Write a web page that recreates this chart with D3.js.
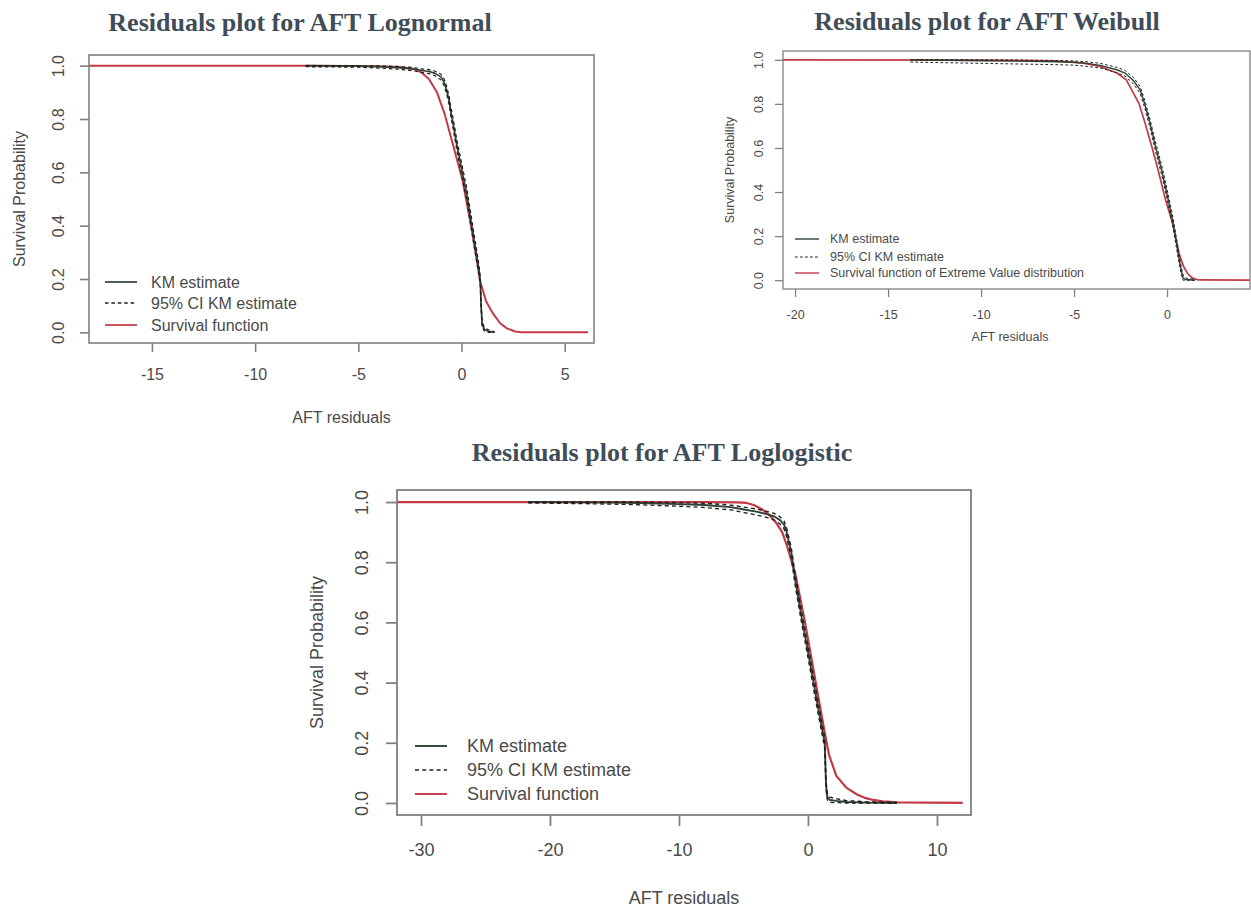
<!DOCTYPE html>
<html>
<head>
<meta charset="utf-8">
<script src="https://cdn.jsdelivr.net/npm/d3@7"></script>
<style>
  html, body { margin: 0; padding: 0; background: #fff; }
  svg { display: block; }
</style>
</head>
<body>
<svg id="chart" width="1251" height="908"></svg>
<script>
// ---------------- DATA ----------------
const titles = ["Residuals plot for AFT Lognormal", "Residuals plot for AFT Weibull", "Residuals plot for AFT Loglogistic"];
const yTitle = "Survival Probability";
const xTitle = "AFT residuals";
const yTicks = [0, 0.2, 0.4, 0.6, 0.8, 1.0];
const xTicks1 = [-15, -10, -5, 0, 5];
const xTicks2 = [-20, -15, -10, -5, 0];
const xTicks3 = [-30, -20, -10, 0, 10];
const xRange1 = [-18.05, 6.42];
const xRange2 = [-20.65, 4.46];
const xRange3 = [-31.86, 12.64];
const legend1 = ["KM estimate", "95% CI KM estimate", "Survival function"];
const legend2 = ["KM estimate", "95% CI KM estimate", "Survival function of Extreme Value distribution"];
const legend3 = ["KM estimate", "95% CI KM estimate", "Survival function"];

// Lognormal panel
const km1X  = [-7.55, -6, -5, -4, -3.1, -2.35, -1.9, -1.58, -1.3, -1.0, -0.85, -0.72, -0.6, -0.53, -0.4, -0.24, 0.05, 0.25, 0.43, 0.6, 0.72, 0.85, 0.91, 0.95, 1.0, 1.1, 1.3, 1.6];
const km1Y  = [1.0, 0.999, 0.998, 0.996, 0.993, 0.988, 0.982, 0.978, 0.972, 0.958, 0.94, 0.908, 0.87, 0.833, 0.78, 0.708, 0.595, 0.52, 0.433, 0.35, 0.295, 0.23, 0.19, 0.10, 0.03, 0.012, 0.004, 0.0];
const km1Up = [1.0, 1.0, 1.0, 0.999, 0.997, 0.993, 0.988, 0.985, 0.980, 0.968, 0.952, 0.922, 0.886, 0.850, 0.800, 0.728, 0.618, 0.543, 0.456, 0.372, 0.316, 0.250, 0.208, 0.116, 0.042, 0.020, 0.009, 0.002];
const km1Lo = [0.996, 0.995, 0.994, 0.991, 0.987, 0.981, 0.975, 0.970, 0.963, 0.947, 0.927, 0.893, 0.853, 0.815, 0.760, 0.688, 0.572, 0.497, 0.410, 0.328, 0.274, 0.210, 0.172, 0.085, 0.020, 0.005, 0.0, 0.0];
const fit1X = [-19, -8, -5, -4, -3, -2.5, -2.2, -1.9, -1.58, -1.19, -0.82, -0.43, 0.05, 0.53, 0.91, 1.2, 1.49, 1.86, 2.2, 2.6, 2.9, 6.13];
const fit1Y = [1.0, 1.0, 0.999, 0.998, 0.995, 0.99, 0.985, 0.972, 0.95, 0.90, 0.82, 0.708, 0.57, 0.37, 0.19, 0.115, 0.075, 0.035, 0.015, 0.003, 0.0, 0.0];

// Weibull panel
const km2X  = [-13.8, -12, -10, -8, -6, -5, -4.3, -3.6, -2.7, -2.26, -1.8, -1.45, -1.2, -0.92, -0.6, -0.29, 0.0, 0.33, 0.6, 0.75, 0.86, 1.0, 1.5];
const km2Y  = [1.0, 0.998, 0.996, 0.994, 0.991, 0.989, 0.984, 0.975, 0.955, 0.94, 0.905, 0.864, 0.80, 0.712, 0.60, 0.50, 0.39, 0.258, 0.12, 0.05, 0.01, 0.003, 0.0];
const km2Up = [1.0, 1.0, 1.0, 0.999, 0.997, 0.995, 0.991, 0.984, 0.966, 0.952, 0.919, 0.879, 0.817, 0.731, 0.621, 0.522, 0.413, 0.281, 0.141, 0.068, 0.024, 0.010, 0.003];
const km2Lo = [0.99, 0.987, 0.984, 0.981, 0.978, 0.976, 0.97, 0.963, 0.942, 0.926, 0.89, 0.848, 0.782, 0.692, 0.578, 0.478, 0.367, 0.235, 0.099, 0.032, 0.0, 0.0, 0.0];
const fit2X = [-21, -10, -6, -4.5, -3.6, -2.7, -2.2, -1.9, -1.5, -1.18, -0.8, -0.48, -0.1, 0.3, 0.65, 0.9, 1.15, 1.4, 1.7, 4.6];
const fit2Y = [1.0, 0.999, 0.995, 0.985, 0.97, 0.94, 0.91, 0.864, 0.80, 0.712, 0.60, 0.50, 0.37, 0.258, 0.12, 0.06, 0.025, 0.008, 0.001, 0.0];

// Loglogistic panel
const km3X  = [-21.7, -18, -15, -13.2, -10, -8.06, -6, -4.96, -4, -3.2, -2.6, -2.17, -1.85, -1.65, -1.3, -0.96, -0.46, 0.08, 0.6, 1.1, 1.3, 1.4, 1.5, 1.7, 2.2, 3.0, 4.5, 6.9];
const km3Y  = [1.0, 0.999, 0.998, 0.997, 0.993, 0.99, 0.983, 0.975, 0.968, 0.96, 0.952, 0.94, 0.925, 0.90, 0.834, 0.734, 0.61, 0.485, 0.36, 0.245, 0.20, 0.06, 0.02, 0.01, 0.007, 0.003, 0.001, 0.0];
const km3Up = [1.0, 1.0, 1.0, 1.0, 0.998, 0.996, 0.99, 0.983, 0.977, 0.969, 0.962, 0.951, 0.937, 0.914, 0.85, 0.752, 0.629, 0.505, 0.38, 0.264, 0.218, 0.075, 0.032, 0.019, 0.014, 0.008, 0.004, 0.002];
const km3Lo = [0.997, 0.995, 0.993, 0.991, 0.986, 0.982, 0.974, 0.965, 0.957, 0.949, 0.94, 0.927, 0.911, 0.884, 0.816, 0.714, 0.59, 0.465, 0.34, 0.226, 0.182, 0.047, 0.01, 0.002, 0.001, 0.0, 0.0, 0.0];
const fit3X = [-33, -8, -5.5, -4.77, -4.2, -3.56, -3.0, -2.5, -2.0, -1.65, -0.96, -0.27, 0.25, 0.77, 1.29, 1.63, 2.2, 3.0, 3.8, 4.4, 5.06, 5.8, 7.0, 12.0];
const fit3Y = [1.0, 1.0, 0.999, 0.997, 0.99, 0.976, 0.957, 0.933, 0.90, 0.858, 0.758, 0.61, 0.485, 0.36, 0.236, 0.16, 0.09, 0.05, 0.028, 0.017, 0.01, 0.005, 0.002, 0.0];

// ---------------- LAYOUT ----------------
const panels = [
  { title: titles[0], titleX: 300, titleY: 31, left: 89, right: 594, top: 55, bottom: 343,
    xRange: xRange1, xTicks: xTicks1, fs: 16, tick: 9, yLabX: 58, yTitleX: 19,
    xLabY: 374, xTitleY: 417, xTitleX: 341.5, lx1: 105, lx2: 137, tx: 151, rows: [282, 303, 325],
    legend: legend1, km: [km1X, km1Y, km1Up, km1Lo], fit: [fit1X, fit1Y], lw: 1.7, bw: 1.6 },
  { title: titles[1], titleX: 987, titleY: 30, left: 783, right: 1250, top: 51, bottom: 289,
    xRange: xRange2, xTicks: xTicks2, fs: 12.5, tick: 8, yLabX: 759, yTitleX: 730,
    xLabY: 315, xTitleY: 337, xTitleX: 1010, lx1: 795, lx2: 819, tx: 830, rows: [239, 257, 273],
    legend: legend2, km: [km2X, km2Y, km2Up, km2Lo], fit: [fit2X, fit2Y], lw: 1.4, bw: 1.3 },
  { title: titles[2], titleX: 662, titleY: 461, left: 397, right: 971, top: 490, bottom: 815,
    xRange: xRange3, xTicks: xTicks3, fs: 18, tick: 11, yLabX: 362, yTitleX: 317,
    xLabY: 850, xTitleY: 898, xTitleX: 684, lx1: 415, lx2: 447, tx: 467, rows: [746, 770, 794],
    legend: legend3, km: [km3X, km3Y, km3Up, km3Lo], fit: [fit3X, fit3Y], lw: 1.9, bw: 1.8 }
];

const svg = d3.select("#chart");
const SANS = "'Liberation Sans', Arial, sans-serif";
const SERIF = "'Liberation Serif', 'Times New Roman', serif";
const TXT = "#4a4a4a";
const BOX = "#808080";
const KMC = "#2f4233";
const CIC = "#1e1e1e";
const RED = "#c23a46";

panels.forEach((p, i) => {
  const g = svg.append("g");
  const x = d3.scaleLinear().domain(p.xRange).range([p.left, p.right]);
  const y = d3.scaleLinear().domain([-0.04, 1.04]).range([p.bottom, p.top]);

  // title
  g.append("text").attr("x", p.titleX).attr("y", p.titleY)
    .attr("text-anchor", "middle").attr("font-family", SERIF).attr("font-weight", "bold")
    .attr("font-size", 26).attr("fill", "#3f4d59").text(p.title);

  // clip
  const cid = "clip" + i;
  svg.append("defs").append("clipPath").attr("id", cid).append("rect")
    .attr("x", p.left).attr("y", p.top).attr("width", p.right - p.left).attr("height", p.bottom - p.top);

  const plot = g.append("g").attr("clip-path", `url(#${cid})`);
  const line = d3.line().x(d => x(d[0])).y(d => y(d[1]));

  const [kx, ky, kup, klo] = p.km;
  const [fx, fy] = p.fit;

  plot.append("path").datum(fx.map((v, j) => [v, fy[j]])).attr("d", line)
    .attr("fill", "none").attr("stroke", RED).attr("stroke-width", p.lw + 0.3).attr("stroke-linejoin", "round");
  plot.append("path").datum(kx.map((v, j) => [v, ky[j]])).attr("d", line)
    .attr("fill", "none").attr("stroke", KMC).attr("stroke-width", p.lw).attr("stroke-linejoin", "round");
  [kup, klo].forEach(arr => {
    plot.append("path").datum(kx.map((v, j) => [v, arr[j]])).attr("d", line)
      .attr("fill", "none").attr("stroke", CIC).attr("stroke-width", p.lw * 0.7)
      .attr("stroke-dasharray", `${p.fs * 0.22},${p.fs * 0.18}`);
  });

  // box
  g.append("rect").attr("x", p.left).attr("y", p.top).attr("width", p.right - p.left)
    .attr("height", p.bottom - p.top).attr("fill", "none").attr("stroke", BOX).attr("stroke-width", p.bw);

  // x axis
  const xa = g.append("g").attr("transform", `translate(0,${p.bottom})`)
    .call(d3.axisBottom(x).tickValues(p.xTicks).tickSize(p.tick).tickFormat(d => d));
  xa.select(".domain").remove();
  xa.selectAll(".tick line").attr("stroke", BOX).attr("stroke-width", p.bw);
  xa.selectAll(".tick text").attr("y", p.xLabY - p.bottom).attr("dy", "0.35em")
    .attr("font-family", SANS).attr("font-size", p.fs).attr("fill", TXT);

  // y axis
  const ya = g.append("g").attr("transform", `translate(${p.left},0)`)
    .call(d3.axisLeft(y).tickValues(yTicks).tickSize(p.tick).tickFormat(d3.format(".1f")));
  ya.select(".domain").remove();
  ya.selectAll(".tick line").attr("stroke", BOX).attr("stroke-width", p.bw);
  ya.selectAll(".tick text")
    .attr("x", 0).attr("dy", "0.35em").attr("text-anchor", "middle")
    .attr("transform", `translate(${p.yLabX - p.left},0) rotate(-90)`)
    .attr("font-family", SANS).attr("font-size", p.fs).attr("fill", TXT);

  // axis titles
  g.append("text").attr("x", p.xTitleX).attr("y", p.xTitleY).attr("dy", "0.35em")
    .attr("text-anchor", "middle").attr("font-family", SANS).attr("font-size", p.fs)
    .attr("fill", TXT).text(xTitle);
  g.append("text").attr("transform", `translate(${p.yTitleX},${(p.top + p.bottom) / 2}) rotate(-90)`)
    .attr("dy", "0.35em").attr("text-anchor", "middle").attr("font-family", SANS)
    .attr("font-size", p.fs).attr("fill", TXT).text(yTitle);

  // legend
  const styles = [
    { c: KMC, dash: null },
    { c: CIC, dash: `${p.fs * 0.22},${p.fs * 0.18}` },
    { c: RED, dash: null }
  ];
  p.legend.forEach((lab, j) => {
    const ly = p.rows[j];
    const ln = g.append("line").attr("x1", p.lx1).attr("x2", p.lx2).attr("y1", ly).attr("y2", ly)
      .attr("stroke", styles[j].c).attr("stroke-width", j === 1 ? p.lw * 0.8 : p.lw);
    if (styles[j].dash) ln.attr("stroke-dasharray", styles[j].dash);
    g.append("text").attr("x", p.tx).attr("y", ly).attr("dy", "0.35em")
      .attr("font-family", SANS).attr("font-size", p.fs).attr("fill", TXT).text(lab);
  });
});
</script>
</body>
</html>
